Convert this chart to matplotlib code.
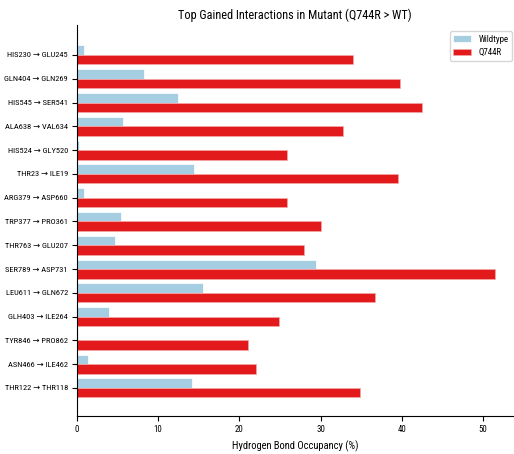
import matplotlib
matplotlib.use("Agg")
import matplotlib.pyplot as plt
from matplotlib import font_manager
import numpy as np

interactions = [
    "HIS230 → GLU245", "GLN404 → GLN269", "HIS545 → SER541", "ALA638 → VAL634",
    "HIS524 → GLY520", "THR23 → ILE19", "ARG379 → ASP660", "TRP377 → PRO361",
    "THR763 → GLU207", "SER789 → ASP731", "LEU611 → GLN672", "GLH403 → ILE264",
    "TYR846 → PRO862", "ASN466 → ILE462", "THR122 → THR118",
]
wildtype = [0.9, 8.3, 12.4, 5.7, 0.2, 14.4, 0.9, 5.4, 4.7, 29.4, 15.5, 4.0, 0.1, 1.3, 14.2]
mutant = [34.0, 39.8, 42.5, 32.8, 25.9, 39.5, 25.9, 30.1, 28.0, 51.5, 36.7, 24.9, 21.0, 22.0, 34.8]

# prefer a narrow face when one is installed
installed = {f.name for f in font_manager.fontManager.ttflist}
narrow = [n for n in ("Liberation Sans Narrow", "DejaVu Sans Condensed",
                      "Roboto Condensed", "Open Sans Condensed") if n in installed]
plt.rcParams["font.family"] = narrow + ["DejaVu Sans"]
scale = 1.0 if narrow else 0.75

fig = plt.figure(figsize=(5.14, 4.54), dpi=100)
ax = fig.add_axes([77 / 514, 1 - 416 / 454, 436 / 514, (416 - 25) / 454])

y = np.arange(len(interactions))
h = 0.4
ax.barh(y - h / 2, wildtype, height=h, color="#a6cee3", edgecolor="white",
        linewidth=0.5, label="Wildtype")
ax.barh(y + h / 2, mutant, height=h, color="#e31a1c", edgecolor="#f7a8a8",
        linewidth=0.5, label="Q744R")

ax.set_yticks(y)
ax.set_yticklabels(interactions, fontsize=6.0 * scale)
ax.set_ylim(len(interactions) - 1 + 1.18, -1.26)
ax.set_xlim(0, 53.7)
ax.set_xticks([0, 10, 20, 30, 40, 50])
ax.tick_params(axis="x", labelsize=6.4 * scale, length=3.5, width=0.8, pad=3)
ax.tick_params(axis="y", length=3.5, width=0.8, pad=3)

for s in ("top", "right"):
    ax.spines[s].set_visible(False)

ax.set_xlabel("Hydrogen Bond Occupancy (%)", fontsize=7.6 * scale, labelpad=5)
ax.set_title("Top Gained Interactions in Mutant (Q744R > WT)", fontsize=8.8 * scale, pad=4)
ax.legend(loc="upper right", bbox_to_anchor=(512 / 514, 1 - 31 / 454),
          bbox_transform=fig.transFigure, fontsize=6.4 * scale, frameon=True,
          handlelength=2.0, borderaxespad=0)

fig.savefig("out.png", dpi=100)
